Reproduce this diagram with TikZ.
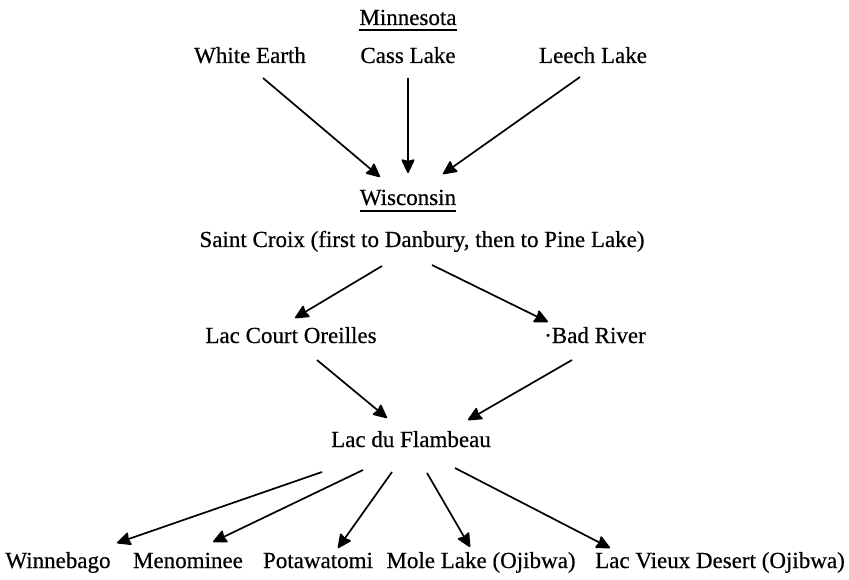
\documentclass[tikz,border=0pt]{standalone}
\usepackage{fontspec}
\setmainfont{Liberation Serif}[FakeBold=0.4]
\usetikzlibrary{arrows.meta,calc}
\begin{document}
\begin{tikzpicture}[x=1pt,y=-1pt,
  lbl/.style={inner sep=0pt,anchor=base,font=\fontsize{23}{26}\selectfont\addfontfeature{FakeBold=0.5}},
  arr/.style={line width=1.7pt,-{Stealth[length=15pt,width=14pt,inset=1.5pt,round]}},
  uline/.style={line width=1.1pt}]
\useasboundingbox[fill=white] (0,0) rectangle (849,580);
% nodes
\node[lbl] (mn) at (408,25) {Minnesota};
\node[lbl] (we) at (250,63) {White Earth};
\node[lbl] (cl) at (408,63) {Cass Lake};
\node[lbl] (ll) at (593,63) {Leech Lake};
\node[lbl] (wis) at (408,205) {Wisconsin};
\node[lbl] (sc) at (422,247) {Saint Croix (first to Danbury, then to Pine Lake)};
\node[lbl] (lco) at (291,343) {Lac Court Oreilles};
\node[lbl] (br) at (595,343) {·Bad River};
\node[lbl] (ldf) at (411,447) {Lac du Flambeau};
\node[lbl] (win) at (58,568) {Winnebago};
\node[lbl] (men) at (188,568) {Menominee};
\node[lbl] (pot) at (318,568) {Potawatomi};
\node[lbl] (mole) at (481,568) {Mole Lake (Ojibwa)};
\node[lbl] (lvd) at (720,568) {Lac Vieux Desert (Ojibwa)};
% underlines
\draw[uline] ($(mn.base west)+(0,5)$) -- ($(mn.base east)+(0,5)$);
\draw[uline] ($(wis.base west)+(0,6)$) -- ($(wis.base east)+(0,6)$);
% connectors
\draw[arr] ($(we.base)+(13,15)$) -- ($(wis.base)+(-28,-28)$);
\draw[arr] ($(cl.base)+(0,15)$) -- ($(wis.base)+(0,-32)$);
\draw[arr] ($(ll.base)+(-13,14)$) -- ($(wis.base)+(35,-31)$);
\draw[arr] ($(sc.base)+(-40,19)$) -- ($(lco.base)+(4,-25)$);
\draw[arr] ($(sc.base)+(10,18)$) -- ($(br.base)+(-47,-21)$);
\draw[arr] ($(lco.base)+(26,17)$) -- ($(ldf.base)+(-24,-29)$);
\draw[arr] ($(br.base)+(-23,17)$) -- ($(ldf.base)+(57,-27)$);
\draw[arr] ($(ldf.base)+(-89,25)$) -- ($(win.base)+(59,-25)$);
\draw[arr] ($(ldf.base)+(-48,23)$) -- ($(men.base)+(25,-26)$);
\draw[arr] ($(ldf.base)+(-19,25)$) -- ($(pot.base)+(20,-20)$);
\draw[arr] ($(ldf.base)+(16,26)$) -- ($(mole.base)+(-11,-21)$);
\draw[arr] ($(ldf.base)+(44,21)$) -- ($(lvd.base)+(-110,-20)$);
\end{tikzpicture}
\end{document}
